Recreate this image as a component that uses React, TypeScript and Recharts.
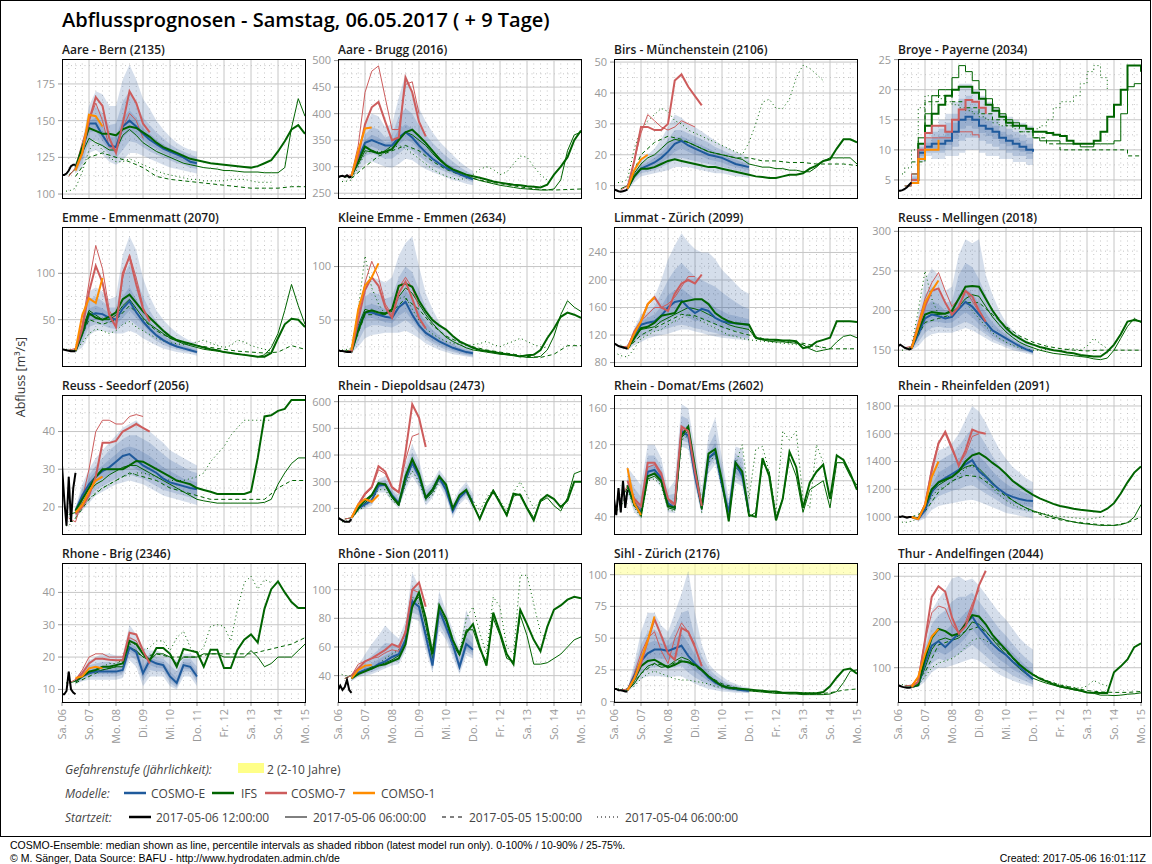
import { ComposedChart, Line, Area, XAxis, YAxis, CartesianGrid, ReferenceArea } from "recharts";

// ---------- station list & axes ----------
const STATIONS = [
  "Aare - Bern (2135)", "Aare - Brugg (2016)", "Birs - Münchenstein (2106)", "Broye - Payerne (2034)",
  "Emme - Emmenmatt (2070)", "Kleine Emme - Emmen (2634)", "Limmat - Zürich (2099)", "Reuss - Mellingen (2018)",
  "Reuss - Seedorf (2056)", "Rhein - Diepoldsau (2473)", "Rhein - Domat/Ems (2602)", "Rhein - Rheinfelden (2091)",
  "Rhone - Brig (2346)", "Rhône - Sion (2011)", "Sihl - Zürich (2176)", "Thur - Andelfingen (2044)",
];

const Y_DOMAINS: [number, number][] = [
  [97.3, 192], [241, 503], [6, 51], [2, 25.1],
  [0, 150], [7, 137], [75, 277], [130, 305.5],
  [12.8, 49.7], [104, 625], [21, 175], [878, 1879],
  [6.1, 49.1], [21.6, 118.6], [-0.3, 109.2], [25, 329],
];

const Y_TICKS = [
  [100, 125, 150, 175], [250, 300, 350, 400, 450, 500], [10, 20, 30, 40, 50], [5, 10, 15, 20, 25],
  [50, 100], [50, 100], [80, 120, 160, 200, 240], [150, 200, 250, 300],
  [20, 30, 40], [200, 300, 400, 500, 600], [40, 80, 120, 160], [1000, 1200, 1400, 1600, 1800],
  [10, 20, 30, 40], [40, 60, 80, 100], [0, 25, 50, 75, 100], [100, 200, 300],
];

// Gefahrenstufe 2 threshold (only Sihl reaches it on the axis)
const DANGER_LEVEL: (number | null)[] = [
  null, null, null, null, null, null, null, null, null, null, null, null, null, null, 100, null,
];

const DAY_LABELS = ["Sa. 06", "So. 07", "Mo. 08", "Di. 09", "Mi. 10", "Do. 11", "Fr. 12", "Sa. 13", "So. 14", "Mo. 15"];

// hours after Sa. 06 00:00 where each series begins
const OBS_START = 0, OBS_STEP = 2;
const ENS_START = 12;
const IFS_START = 12;
const IFS_06_START = 6;
const IFS_0505_START = 12, IFS_0505_STEP = 12;
const IFS_0504_START = 0;
const C7_START = 12;
const C7_06_START = 6;
const C1_START = 12;
const STEP = 6;

// ---------- observed ----------
const OBS = [
  [113, 113, 114, 116, 119, 120, 120],
  [280, 282, 283, 281, 284, 280, 281],
  [8.8, 8.5, 8.2, 8.0, 8.2, 8.4, 8.8],
  [3.2, 3.2, 3.3, 3.5, 3.8, 4.2, 4.6],
  [18, 17.5, 17, 16.5, 16, 16, 16],
  [22, 21, 21, 20.5, 20, 20, 20],
  [108, 106, 104, 103, 102, 101, 100],
  [155, 157, 155, 153, 152, 151, 152],
  [31, 22, 15, 28, 16, 25, 29],
  [165, 160, 155, 150, 150, 150, 160],
  [60, 42, 72, 45, 80, 50, 70],
  [1005, 1000, 1005, 1000, 995, 1000, 1000],
  [8.5, 8.5, 9.5, 15.5, 10, 9, 8.5],
  [30, 33, 30, 32, 37, 30, 28],
  [10, 10, 9, 9, 8.5, 8, 8],
  [62, 60, 58, 57, 56, 56, 57],
];

// ---------- COSMO-E median (12:00 run) ----------
const COSMO_E = [
  [118, 128, 148, 148, 140, 133, 132, 146, 150, 146, 141, 137, 134, 131, 129, 127, 125, 122, 121],
  [282, 315, 345, 350, 345, 340, 340, 355, 365, 355, 340, 327, 315, 306, 298, 292, 286, 281, 276],
  [9, 13, 15.5, 16.5, 17.5, 19, 21, 23.5, 24.5, 23, 22, 21, 20, 19.5, 19, 18, 17, 16.5, 16],
  [5, 9.5, 10.5, 11, 11, 11.5, 13, 15, 15.5, 15, 14, 13.5, 13, 12, 11.5, 11, 10.5, 10, 9.7],
  [16, 35, 55, 57, 56, 52, 50, 62, 70, 58, 48, 40, 33, 28, 24, 21, 19, 17, 15],
  [20, 42, 57, 57, 55, 53, 52, 62, 67, 55, 45, 38, 34, 30, 27, 24, 22, 20, 19],
  [100, 120, 135, 138, 140, 148, 160, 168, 170, 160, 152, 158, 155, 145, 140, 138, 137, 136, 135],
  [152, 170, 190, 195, 193, 190, 192, 202, 211, 205, 195, 185, 175, 170, 165, 160, 155, 151, 148],
  [19, 23, 26, 28, 29.5, 30.5, 32, 33.5, 34, 32.5, 31, 30, 29, 27.5, 26.5, 26, 25.5, 25, 24.7],
  [165, 200, 215, 230, 285, 290, 250, 220, 310, 370, 320, 240, 270, 315, 270, 190, 240, 265, 220],
  [75, 55, 45, 90, 92, 83, 55, 50, 135, 130, 85, 50, 105, 112, 75, 45, 100, 85, 45],
  [1000, 985, 1050, 1180, 1250, 1280, 1310, 1340, 1380, 1410, 1330, 1290, 1240, 1200, 1165, 1145, 1130, 1120, 1115],
  [12.5, 14, 15, 15.5, 15.5, 15.5, 15.5, 16, 23, 21.5, 15, 19, 18, 17.5, 14, 12, 17.5, 17, 14],
  [38, 42, 44, 45, 48, 50, 53, 55, 65, 92, 88, 68, 47, 86, 74, 62, 46, 62, 58],
  [9, 20, 32, 38, 41, 41, 40, 42, 44, 36, 30, 25, 19, 15, 12.5, 11, 10, 9, 8.5],
  [58, 62, 110, 148, 158, 145, 160, 175, 195, 212, 188, 170, 152, 138, 128, 113, 102, 88, 75],
];

// ---------- COSMO-E percentile ribbons ----------
const ENS_0_100_LO = [
  [114, 118, 128, 130, 127, 122, 120, 123, 128, 128, 126, 124, 122, 120, 118, 117, 116, 115, 114],
  [280, 290, 305, 310, 305, 300, 298, 305, 315, 312, 303, 295, 290, 285, 280, 275, 272, 268, 265],
  [8.5, 11, 13, 13.5, 14, 14.5, 15, 16, 16, 16, 15.5, 15, 14.5, 14, 14, 13.5, 13, 13, 12.5],
  [4.5, 8, 9, 8.5, 8.5, 9, 9, 9.5, 10, 10, 9.5, 9, 9, 8.5, 8.5, 8, 8, 7.5, 7.5],
  [15, 20, 33, 38, 38, 36, 35, 35, 38, 35, 30, 26, 22, 19, 17, 15, 14, 13, 11],
  [19, 25, 33, 36, 37, 38, 38, 38, 40, 37, 33, 28, 25, 22, 20, 18, 17, 16, 15],
  [98, 105, 110, 115, 118, 120, 122, 125, 128, 128, 125, 123, 120, 118, 116, 115, 114, 113, 112],
  [150, 155, 165, 170, 172, 172, 172, 175, 178, 175, 170, 165, 160, 157, 153, 150, 148, 146, 144],
  [17, 19, 21, 23, 24, 25, 26, 26.5, 27, 26.5, 26, 25, 24, 23, 22.5, 22, 21.5, 21, 20.5],
  [160, 190, 200, 210, 260, 260, 225, 200, 270, 320, 280, 210, 240, 290, 240, 165, 215, 240, 195],
  [65, 45, 38, 80, 82, 72, 45, 44, 118, 115, 74, 42, 88, 98, 68, 35, 78, 74, 38],
  [995, 970, 990, 1050, 1080, 1090, 1100, 1110, 1120, 1125, 1110, 1090, 1070, 1050, 1030, 1020, 1010, 1000, 990],
  [11.5, 12.5, 13, 13, 13, 13, 13, 13.5, 19, 17, 11, 14, 14, 14, 11, 10, 14, 14, 11],
  [36, 39, 40, 41, 43, 45, 47, 48, 57, 80, 78, 58, 42, 72, 65, 53, 41, 54, 52],
  [8, 12, 18, 20, 20, 20, 19, 20, 20, 17, 14, 12, 10, 9, 8, 7.5, 7, 7, 6.5],
  [56, 58, 70, 90, 100, 100, 105, 110, 115, 120, 115, 105, 95, 85, 78, 72, 66, 62, 58],
];
const ENS_0_100_HI = [
  [120, 135, 160, 170, 168, 160, 160, 178, 188, 178, 165, 158, 150, 144, 139, 135, 132, 130, 129],
  [284, 330, 380, 400, 395, 375, 380, 430, 475, 440, 410, 385, 365, 348, 335, 322, 310, 300, 292],
  [9.5, 15, 18, 20, 22, 25, 29, 33, 32, 30, 29, 27.5, 26, 24.5, 23, 22, 21, 20, 19],
  [6, 11, 13, 14, 15, 16, 18, 21, 21, 20, 19, 18, 17, 16, 15.5, 15, 14.5, 14, 13.5],
  [18, 50, 80, 85, 80, 72, 75, 120, 140, 125, 95, 75, 60, 50, 42, 36, 31, 27, 24],
  [22, 60, 85, 90, 88, 85, 90, 110, 122, 128, 100, 75, 60, 48, 40, 35, 31, 28, 26],
  [102, 130, 150, 160, 175, 200, 230, 250, 268, 255, 245, 240, 240, 230, 215, 205, 195, 185, 180],
  [155, 195, 240, 253, 245, 225, 230, 270, 290, 285, 290, 245, 220, 200, 185, 175, 168, 162, 157],
  [20, 26, 30, 33, 35, 37, 39, 41, 42, 43, 41, 40, 38.5, 37, 35, 34, 33, 32, 31],
  [170, 215, 235, 255, 310, 320, 280, 250, 370, 440, 380, 280, 300, 345, 310, 225, 270, 300, 255],
  [95, 85, 75, 120, 120, 105, 70, 80, 165, 160, 115, 70, 130, 150, 105, 60, 118, 115, 55],
  [1005, 1000, 1100, 1350, 1480, 1500, 1530, 1600, 1700, 1800, 1760, 1680, 1580, 1490, 1420, 1360, 1320, 1280, 1250],
  [13.5, 16, 19, 20, 21, 21, 20.5, 20.5, 30, 27, 23, 22, 22, 21, 20, 19, 21, 21, 20],
  [40, 47, 55, 62, 68, 75, 70, 66, 78, 112, 102, 80, 62, 99, 85, 72, 58, 86, 74],
  [10, 30, 55, 70, 70, 60, 55, 70, 85, 103, 70, 45, 30, 24, 20, 16, 14, 12, 11],
  [60, 72, 160, 225, 250, 270, 295, 300, 290, 295, 280, 260, 240, 220, 205, 185, 165, 150, 140],
];
const ENS_10_90_LO = [
  [115, 121, 135, 137, 132, 127, 124, 130, 136, 135, 132, 129, 127, 125, 123, 121, 120, 118, 117],
  [281, 300, 320, 325, 320, 315, 315, 325, 335, 330, 320, 310, 302, 295, 290, 284, 280, 276, 270],
  [8.7, 12, 14, 14.5, 15, 16, 17, 18.5, 19, 18.5, 18, 17.5, 17, 16.5, 16, 15.5, 15, 14.5, 14],
  [4.8, 8.5, 9.5, 9.5, 9.5, 10, 10.5, 11.5, 12, 12, 11.5, 11, 10.5, 10, 9.5, 9, 9, 8.5, 8],
  [15.5, 25, 42, 45, 44, 41, 40, 44, 50, 44, 38, 32, 27, 23, 20, 18, 16, 15, 13],
  [19.5, 30, 42, 45, 45, 44, 43, 46, 50, 45, 38, 32, 28, 25, 22, 20, 18.5, 17, 16],
  [99, 110, 118, 122, 125, 127, 130, 133, 135, 133, 130, 128, 125, 123, 120, 118, 117, 116, 115],
  [151, 160, 172, 178, 180, 178, 178, 182, 186, 182, 176, 170, 164, 160, 156, 153, 150, 148, 145],
  [17.5, 20.5, 22.5, 24.5, 25.5, 26.5, 27.5, 28, 28.5, 28, 27.5, 26.5, 25.5, 24.5, 24, 23.5, 23, 22.5, 22],
  [162, 195, 205, 218, 270, 272, 235, 208, 285, 340, 295, 222, 252, 300, 252, 175, 225, 250, 205],
  [70, 50, 41, 84, 86, 76, 50, 47, 125, 122, 79, 44, 94, 104, 72, 38, 84, 78, 40],
  [997, 975, 1010, 1100, 1150, 1170, 1190, 1200, 1220, 1230, 1200, 1170, 1140, 1110, 1080, 1060, 1050, 1040, 1030],
  [11.8, 13, 13.8, 14, 14, 14, 14, 14.5, 20.5, 19, 12.5, 16, 15.5, 15.5, 12, 10.5, 15.5, 15.5, 12],
  [36.5, 40, 41.5, 42.5, 44.5, 46.5, 49, 50, 59, 84, 82, 61, 44, 76, 68, 56, 43, 57, 54],
  [8.3, 14, 22, 26, 27, 27, 26, 27, 28, 23, 19, 16, 13, 11, 9.5, 8.5, 8, 7.5, 7],
  [57, 59, 80, 110, 120, 115, 122, 130, 140, 150, 138, 125, 112, 100, 92, 83, 76, 70, 63],
];
const ENS_10_90_HI = [
  [118, 130, 154, 160, 155, 147, 148, 163, 170, 162, 152, 147, 142, 138, 134, 131, 129, 127, 125],
  [283, 320, 360, 375, 370, 355, 360, 395, 410, 400, 378, 360, 345, 332, 320, 310, 300, 292, 285],
  [9.3, 14, 17, 18.5, 20, 22, 25, 28, 28, 27, 26, 25, 24, 22.5, 21.5, 20.5, 19.5, 18.5, 18],
  [5.6, 10.5, 12, 13, 13.5, 14.5, 16, 18.5, 19, 18, 17, 16, 15, 14, 13.5, 13, 12.5, 12, 11.5],
  [17, 45, 72, 75, 70, 63, 63, 95, 110, 95, 75, 60, 48, 40, 34, 29, 26, 23, 20],
  [21, 52, 72, 76, 74, 70, 72, 90, 100, 95, 78, 62, 51, 43, 36, 31, 28, 25, 23],
  [101, 128, 145, 152, 162, 180, 200, 215, 225, 215, 205, 200, 195, 190, 182, 175, 168, 162, 158],
  [154, 185, 220, 230, 225, 210, 212, 245, 260, 255, 240, 220, 200, 188, 177, 168, 162, 157, 153],
  [19.5, 25, 28.5, 31, 33, 35, 36.5, 38, 39, 39, 38, 37, 35.5, 34, 32.5, 31.5, 30.5, 29.5, 29],
  [168, 210, 228, 245, 300, 308, 268, 238, 345, 410, 355, 265, 288, 333, 293, 210, 258, 285, 240],
  [88, 72, 62, 108, 108, 96, 64, 66, 152, 148, 102, 60, 118, 133, 94, 54, 110, 104, 52],
  [1003, 995, 1080, 1290, 1400, 1430, 1460, 1510, 1580, 1640, 1600, 1520, 1440, 1370, 1310, 1270, 1240, 1210, 1190],
  [13.2, 15.3, 17.5, 18, 18.5, 18.5, 18, 18.5, 26.5, 25, 19, 21, 20, 19.5, 17.5, 15.5, 19.5, 19.5, 17],
  [39.5, 45, 50, 54, 58, 63, 62, 61, 72, 103, 97, 75, 55, 93, 80, 67, 52, 73, 67],
  [9.5, 26, 45, 55, 57, 52, 48, 58, 70, 72, 50, 36, 26, 21, 17, 14, 12.5, 11, 10],
  [59, 68, 140, 195, 215, 225, 245, 255, 255, 265, 245, 225, 205, 185, 170, 152, 135, 120, 108],
];
const ENS_25_75_LO = [
  [116, 124, 142, 143, 136, 130, 128, 138, 143, 140, 137, 133, 131, 128, 126, 124, 122, 120, 119],
  [281, 308, 332, 338, 333, 328, 330, 342, 352, 345, 332, 320, 310, 302, 295, 288, 283, 278, 273],
  [8.9, 12.5, 14.8, 15.5, 16, 17.5, 19, 21, 22, 21, 20, 19.5, 18.5, 18, 17.5, 16.5, 16, 15.5, 15],
  [4.9, 9, 10, 10.2, 10.2, 10.8, 11.8, 13.5, 14, 13.5, 12.8, 12.3, 11.8, 11, 10.6, 10, 9.7, 9.3, 9],
  [15.8, 30, 48, 50, 49, 46, 45, 52, 60, 52, 44, 37, 31, 26, 22.5, 20, 18, 16, 14],
  [20, 37, 51, 52, 50, 48, 47, 54, 58, 50, 42, 35, 30, 27, 24, 21.5, 19.5, 18, 17],
  [99.5, 115, 128, 132, 135, 138, 142, 148, 150, 145, 140, 142, 140, 135, 130, 128, 126, 124, 122],
  [151.5, 165, 182, 186, 186, 184, 185, 192, 198, 192, 183, 175, 168, 163, 159, 155, 152, 149, 146],
  [18.5, 22, 24.5, 26.5, 27.5, 28.5, 29.5, 30.5, 31, 30, 29, 28, 27, 26, 25, 24.5, 24, 23.5, 23],
  [164, 198, 210, 224, 278, 282, 242, 213, 298, 355, 308, 230, 262, 308, 262, 183, 233, 258, 212],
  [73, 53, 43, 87, 89, 79, 52, 49, 130, 126, 82, 46, 98, 108, 74, 41, 88, 82, 42],
  [998, 980, 1030, 1140, 1200, 1230, 1250, 1270, 1300, 1310, 1260, 1220, 1180, 1150, 1120, 1100, 1090, 1080, 1070],
  [12.2, 13.5, 14.4, 14.8, 14.8, 14.8, 14.8, 15.2, 21.8, 20.5, 13.5, 17.5, 16.8, 16.5, 13, 11.2, 16.5, 16.2, 13],
  [37.5, 41, 42.8, 44, 46.5, 48.5, 51, 53, 62, 88, 85, 65, 45.5, 81, 71, 59, 44.5, 59, 56],
  [8.7, 17, 27, 32, 34, 34, 33, 35, 36, 29, 24, 20, 16, 13, 11, 9.5, 9, 8.3, 7.8],
  [57.5, 60, 95, 128, 135, 128, 138, 150, 165, 185, 165, 148, 132, 118, 108, 96, 88, 78, 68],
];
const ENS_25_75_HI = [
  [117, 127, 150, 152, 146, 139, 139, 152, 157, 152, 145, 141, 137, 134, 131, 129, 127, 124, 123],
  [282, 315, 350, 360, 355, 345, 348, 370, 380, 372, 355, 342, 330, 318, 308, 300, 292, 286, 280],
  [9.1, 13.5, 16.5, 17.5, 19, 20.5, 23, 25.5, 26, 25, 24, 23, 22, 21, 20, 19, 18.5, 17.5, 17],
  [5.3, 10, 11.2, 12, 12.3, 13, 14.5, 16.5, 17, 16.5, 15.5, 14.8, 14, 13, 12.5, 12, 11.5, 11, 10.5],
  [16.5, 40, 62, 65, 62, 57, 56, 75, 85, 72, 58, 48, 40, 33, 28, 24, 22, 19.5, 17],
  [20.5, 47, 63, 65, 63, 60, 60, 72, 78, 70, 58, 48, 41, 35, 30, 27, 24, 22, 20.5],
  [100.5, 125, 140, 145, 150, 162, 178, 185, 188, 180, 172, 172, 168, 160, 155, 150, 148, 145, 143],
  [153, 177, 205, 212, 208, 200, 200, 220, 228, 222, 210, 197, 185, 176, 169, 163, 158, 155, 150],
  [19.2, 24, 27.5, 29.5, 31, 32.5, 34, 35.5, 36, 35.5, 34.5, 33.5, 32, 30.5, 29.5, 28.5, 27.5, 27, 26.5],
  [166, 205, 222, 238, 293, 298, 258, 228, 325, 388, 335, 252, 278, 323, 280, 198, 248, 274, 230],
  [82, 62, 52, 96, 98, 89, 59, 57, 142, 138, 93, 54, 110, 122, 87, 49, 104, 95, 49],
  [1002, 990, 1065, 1230, 1320, 1350, 1380, 1420, 1470, 1500, 1440, 1390, 1330, 1280, 1240, 1210, 1190, 1170, 1155],
  [12.8, 14.6, 16, 16.7, 17, 17, 16.8, 17.2, 24.5, 23, 17, 20, 19, 18.5, 15.5, 13.5, 18.5, 18.2, 15.5],
  [38.8, 43.5, 46.5, 48.5, 51.5, 54, 56.5, 57.5, 68, 96, 92, 71, 50, 89, 77, 64, 49, 67, 62],
  [9.2, 23, 38, 46, 48, 46, 44, 49, 54, 46, 37, 30, 23, 18, 15, 13, 11.5, 10.2, 9.5],
  [58.5, 65, 125, 172, 185, 180, 195, 205, 220, 235, 215, 195, 175, 160, 148, 132, 118, 103, 90],
];

// ---------- IFS (12:00 run, thick) ----------
const IFS = [
  [118, 132, 145, 143, 141, 141, 140, 144, 146, 145, 142, 139, 135, 132, 130, 128, 126, 124, 123, 122, 121, 120.5, 120, 119.5, 119, 118.5, 118, 119, 121, 123, 129, 136, 144, 147, 141],
  [282, 310, 338, 330, 325, 328, 333, 350, 365, 370, 358, 345, 330, 315, 303, 295, 290, 285, 282, 279, 276, 272, 270, 268, 266, 265, 263, 262, 261, 266, 285, 300, 318, 350, 368],
  [9, 13, 15.5, 15.5, 16, 17, 18, 18.5, 18, 17.5, 17, 16.5, 16, 16, 15.5, 15, 14.5, 14, 13.5, 13, 12.8, 12.5, 12.5, 13, 13.5, 13.5, 14, 15.5, 16.5, 18, 18.5, 22, 25, 25, 24],
  [5, 11, 14, 16, 17.5, 19, 20, 20.5, 20.5, 19.5, 18.5, 17.5, 16.5, 15.5, 14.5, 14, 14, 13.5, 13, 13, 12.8, 12.5, 12.3, 11.5, 11, 11, 11, 11.5, 13, 15.5, 17.5, 20, 24, 24, 23],
  [16, 35, 57, 52, 50, 53, 58, 72, 77, 68, 59, 52, 45, 38, 32, 28, 26, 24, 22, 20, 18, 17, 15, 14, 13, 12, 11, 10, 10, 14, 30, 45, 51, 50, 42],
  [20, 40, 57, 59, 57, 56, 60, 82, 84, 81, 68, 58, 50, 45, 41, 35, 30, 27, 24, 22, 21, 20, 19, 18, 17, 16, 17, 17.5, 22, 33, 42, 53, 57, 55, 52],
  [100, 115, 130, 132, 138, 148, 150, 152, 168, 170, 172, 172, 165, 152, 145, 140, 137, 136, 135, 116, 114, 113, 113, 112, 112, 111, 101, 103, 110, 113, 116, 140, 140, 140, 139],
  [152, 175, 195, 198, 197, 196, 200, 215, 230, 231, 230, 215, 200, 188, 178, 170, 165, 160, 157, 154, 152, 150, 149, 147, 146, 144, 143, 142, 142, 148, 157, 170, 186, 188, 186],
  [19, 22, 25, 28, 30, 30, 30, 30, 31, 32.2, 32, 31, 30, 29, 28, 27, 26.5, 26, 25, 24.5, 24, 23.4, 23.4, 23.4, 23.4, 23.4, 24, 33, 44, 44.3, 45.5, 46, 48.4, 48.4, 48.4],
  [165, 200, 230, 250, 295, 290, 245, 215, 320, 385, 330, 240, 270, 320, 290, 200, 250, 270, 215, 160, 220, 265, 220, 175, 255, 250, 200, 155, 230, 250, 235, 205, 230, 300, 300],
  [75, 55, 42, 85, 88, 80, 52, 50, 130, 140, 95, 50, 110, 115, 80, 35, 100, 90, 42, 40, 105, 85, 36, 60, 112, 95, 50, 78, 90, 98, 60, 108, 103, 88, 70],
  [1000, 990, 1080, 1200, 1250, 1270, 1290, 1330, 1400, 1445, 1460, 1430, 1390, 1355, 1310, 1260, 1225, 1190, 1160, 1135, 1115, 1095, 1080, 1070, 1060, 1052, 1048, 1042, 1036, 1060, 1100, 1170, 1250, 1320, 1365],
  [12.5, 14, 15.5, 16, 17, 17, 17.5, 18, 25, 24, 21, 19, 22.8, 22.8, 21, 17, 22.5, 22, 21.5, 17, 22.3, 22.3, 16.6, 16.6, 22.3, 25.4, 27, 24.5, 35, 41, 43.4, 40, 37, 35.2, 35.2],
  [38, 41, 43, 45, 47, 48, 50, 52, 62, 88, 98, 80, 55, 89, 80, 65, 55, 70, 76, 60, 47, 84, 70, 55, 48, 86, 76, 65, 57, 74, 86, 89, 93, 95, 94],
  [9, 17, 28, 32, 33, 30, 27, 29, 31.8, 31, 29, 25, 20, 16, 12.5, 11, 10.5, 10, 9.5, 9, 8.5, 8, 8, 7, 7, 7, 6.6, 6.6, 6.6, 7.5, 12, 19, 25, 26, 22],
  [58, 62, 120, 165, 185, 180, 170, 175, 195, 215, 212, 195, 172, 155, 139, 122, 107, 95, 85, 76, 70, 64, 59, 56, 53, 50, 46, 45, 44.5, 44.5, 90, 103, 118, 145, 153],
];

// ---------- IFS (06:00 run, thin) ----------
const IFS_06 = [
  [113, 117, 128, 138, 135, 133, 130, 130, 140, 144, 140, 135, 132, 129, 127, 125, 123, 121, 120, 119, 118, 117.5, 117, 116, 116, 115.5, 115, 115, 115, 114.5, 114.5, 114.5, 118, 145, 165, 153],
  [280, 283, 305, 330, 328, 325, 330, 340, 355, 365, 360, 350, 340, 325, 312, 302, 293, 287, 282, 278, 274, 271, 268, 265, 263, 261, 259, 258, 257, 256, 256, 258, 275, 330, 360, 365],
  [9, 10, 14, 17, 19, 20, 22, 24, 25, 24.5, 24, 23, 22, 21, 20.5, 20, 19.5, 19, 18.5, 17, 16.5, 16, 16, 15.5, 15.5, 15, 15, 14.5, 14.5, 16, 18, 19, 19, 19, 19, 17],
  [4, 6, 12, 16, 19, 20, 20, 22, 24, 23, 21.5, 20, 18.5, 17, 16, 15, 14.5, 14, 13.5, 12, 11.5, 11.5, 11.5, 11, 11, 11, 10.5, 10.5, 11, 11, 11, 11.5, 16, 20.5, 21, 21],
  [17, 17, 40, 60, 55, 50, 50, 55, 65, 72, 62, 52, 45, 40, 35, 30, 27, 24, 22, 20, 18, 17, 16, 15, 14, 13, 12, 11, 10, 12, 20, 35, 60, 88, 65, 45],
  [21, 22, 45, 60, 58, 55, 55, 60, 72, 80, 75, 65, 55, 47, 40, 34, 30, 27, 24, 22, 21, 20, 19, 18, 17.5, 17, 16, 15, 15, 16, 22, 35, 55, 68, 62, 58],
  [104, 102, 118, 128, 130, 132, 140, 145, 150, 155, 160, 158, 155, 150, 145, 140, 135, 132, 130, 128, 115, 113, 111, 110, 110, 109, 108, 106, 100, 96, 98, 100, 110, 118, 120, 116],
  [152, 153, 172, 190, 195, 195, 196, 198, 205, 215, 220, 218, 205, 192, 182, 173, 166, 160, 156, 153, 150, 148, 146, 145, 144, 143, 142, 141, 139, 138, 140, 150, 165, 180, 190, 185],
  [18, 18.5, 21, 24, 26, 27, 28.5, 29.5, 30.5, 31, 31, 30, 29, 28, 27, 26, 25, 24, 23, 22, 21.6, 21.3, 21, 21, 21, 21, 21, 21, 21, 21.2, 22, 26, 29, 31.5, 33, 33],
  [160, 165, 195, 220, 245, 290, 285, 240, 210, 300, 370, 325, 235, 260, 310, 285, 195, 240, 265, 210, 165, 225, 270, 225, 170, 245, 255, 205, 165, 225, 240, 210, 190, 240, 330, 340],
  [60, 72, 52, 44, 82, 85, 78, 50, 48, 128, 135, 90, 48, 105, 110, 75, 38, 95, 88, 40, 45, 100, 90, 40, 60, 105, 85, 45, 70, 75, 80, 50, 100, 100, 85, 75],
  [1000, 1000, 985, 1060, 1180, 1230, 1260, 1290, 1330, 1360, 1375, 1350, 1300, 1250, 1200, 1160, 1120, 1090, 1065, 1045, 1030, 1015, 1000, 990, 975, 965, 955, 950, 945, 940, 940, 940, 945, 960, 1000, 1090],
  [12, 12.5, 14, 15, 15.5, 16, 16.5, 17, 17, 23, 22, 20, 19, 21, 21, 20, 18, 20, 20, 20, 21, 21, 21, 20, 20, 20, 20, 22, 20, 17, 18, 20, 20, 20, 22, 24],
  [38, 40, 42, 44, 46, 47, 49, 51, 54, 65, 90, 95, 75, 52, 86, 78, 62, 54, 72, 72, 58, 50, 80, 68, 52, 50, 82, 68, 48, 48, 49, 52, 55, 60, 65, 67],
  [9, 9, 14, 22, 28, 30, 27, 28, 32, 35, 33, 29, 24, 19, 15, 12, 10.5, 9.5, 9, 8.5, 8, 7.5, 7, 6.5, 6.5, 6, 6, 5.5, 5.5, 5.5, 5.5, 6, 8, 15, 24, 25],
  [60, 60, 62, 100, 140, 160, 165, 160, 165, 180, 200, 195, 180, 162, 145, 128, 112, 98, 86, 77, 71, 66, 62, 58, 55, 52, 49, 46, 44, 40, 40, 39, 40, 42, 43, 45],
];

// ---------- IFS (2017-05-05 15:00 run, dashed; read every 12 h, left out where hidden) ----------
const IFS_0505 = [
  [112, 125, 128, 125, 122, 118, 112, 110, 109, 108, 107, 106, 105, 104, 104, 104, 105, 105],
  [278, 300, 320, 330, 340, 330, 310, 295, 285, 278, 272, 268, 264, 260, 257, 256, 257, 258],
  [10, 20, 24, 26, 25, 23, 21, 20, 19, 19, 18, 18, 17.5, 17.5, 17, 17, 17, 16.5],
  [8, 18, 19, 18, 17, 16, 15, 14, 13, 12, 11, 10, 10, 10, 10, 10, 9, 9],
  [17, 50, 45, 50, 65, 50, 38, 30, 25, 22, 20, 18, 16, 15, 14, 15, 22, 18],
  [21, 55, 55, 58, 70, 60, 45, 35, 29, 25, 22, 20, 18, 16, 15, 18, 26, 26],
  [100, 120, 130, 140, 150, 148, 140, 132, 125, 120, 115, 112, 110, 108, 104, 100, 100, 100],
  [152, 185, 190, 195, 210, 210, 195, 180, 168, 160, 155, 152, 150, 149, 150, 150, 150, 150],
  [17, 22, 25, 27, 29, 28, 27, 25, 24, 23, 22, 22, 22, 22, 22, 25, 27, 27],
  [],
  [],
  [1000, 1040, 1180, 1260, 1300, 1290, 1220, 1150, 1090, 1040, 1000, 980, 965, 955, 945, 940, 960, 1000],
  [12, 14, 16, 17, 23, 20, 21, 20, 20, 20, 21, 21, 21, 21, 22, 23, 24, 26],
  [],
  [9, 22, 30, 28, 33, 28, 20, 14, 11, 9, 8, 7, 7, 6, 6, 7, 9, 10],
  [60, 90, 150, 160, 180, 190, 165, 135, 105, 85, 72, 62, 56, 50, 47, 46, 46, 48],
];

// ---------- IFS (2017-05-04 06:00 run, dotted) ----------
const IFS_0504 = [
  [102, 102, 104, 115, 130, 135, 130, 125, 122, 122, 124, 122, 120, 118, 116, 114, 113, 112, 111, 110, 110, 109, 109, 109, 109, 110, 110, 110, 109, 108, 108, 108],
  [272, 272, 275, 300, 325, 330, 328, 330, 335, 340, 335, 325, 315, 305, 295, 288, 282, 278, 276, 278, 285, 295, 300, 295, 285, 290, 305, 320, 318, 300, 285, 275],
  [11, 11, 12, 22, 28, 31, 33, 35, 34, 31, 30, 28, 27, 26, 25, 24, 23, 22, 21, 20, 24, 30, 37, 38, 35, 35, 38, 45, 49, 48, 46, 44],
  [6, 7, 10, 17, 19, 19, 18.5, 18, 17.5, 17, 16.5, 16, 15.5, 15, 14.5, 14, 14, 13.5, 13, 13, 13.5, 14, 15, 17, 18, 18, 19, 21, 23, 24, 22, 20],
  [18, 18, 18, 25, 35, 40, 38, 35, 38, 45, 48, 42, 38, 34, 30, 27, 25, 24, 23, 24, 26, 28, 25, 22, 20, 22, 28, 26, 22, 20, 18, 16],
  [22, 22, 24, 60, 110, 80, 65, 55, 60, 70, 72, 60, 50, 42, 37, 33, 30, 28, 27, 26, 27, 28, 30, 27, 25, 28, 30, 33, 30, 27, 25, 24],
  [95, 90, 88, 100, 115, 120, 125, 128, 135, 140, 145, 150, 145, 140, 135, 130, 125, 120, 118, 115, 113, 112, 111, 110, 109, 108, 107, 106, 105, 104, 103, 102],
  [150, 150, 155, 200, 250, 215, 195, 190, 195, 205, 210, 200, 190, 180, 172, 165, 160, 156, 153, 151, 150, 150, 151, 150, 149, 151, 152, 150, 155, 165, 158, 152],
  [15, 15, 17, 20, 22, 24, 25, 26, 27, 28, 28.5, 29, 29, 28.5, 28, 27.5, 27, 27, 27, 27.5, 28, 29, 32, 34, 36, 39, 41, 43, 43, 43, 43, 43],
  [150, 150, 160, 190, 210, 230, 270, 270, 230, 210, 290, 340, 300, 230, 250, 300, 280, 200, 240, 270, 230, 190, 240, 270, 230, 190, 260, 300, 250, 200, 230, 250],
  [45, 50, 70, 50, 40, 80, 82, 75, 48, 46, 125, 130, 88, 45, 100, 108, 72, 38, 98, 120, 60, 115, 118, 90, 45, 135, 125, 135, 60, 50, 120, 100],
  [970, 960, 970, 990, 1050, 1150, 1200, 1220, 1250, 1300, 1350, 1370, 1330, 1270, 1210, 1160, 1120, 1090, 1065, 1050, 1040, 1030, 1020, 1010, 1005, 1000, 995, 990, 985, 990, 1000, 1010],
  [12, 12, 13, 14, 15, 16, 17, 18, 18, 19, 24, 24, 22, 23, 25, 25, 22, 26, 28, 23, 21, 23, 29.5, 30, 29.5, 25, 35, 43, 45, 41, 44, 43],
  [42, 40, 40, 42, 44, 46, 48, 52, 55, 58, 70, 95, 90, 70, 55, 85, 75, 60, 55, 80, 88, 70, 55, 95, 88, 60, 55, 110, 110, 90, 70, 65],
  [10, 10, 10, 12, 18, 22, 24, 22, 20, 18, 17, 17, 16, 15, 14, 12, 11, 10, 9.5, 9, 8.5, 8, 8, 7.5, 7.5, 7, 7, 7, 7, 7, 7, 7],
  [65, 62, 60, 62, 80, 100, 110, 115, 120, 130, 145, 160, 165, 160, 150, 140, 128, 115, 102, 92, 84, 77, 72, 67, 63, 60, 57, 55, 60, 72, 65, 60],
];

// ---------- COSMO-7 (12:00 thick / 06:00 thin) ----------
const COSMO7 = [
  [117, 128, 150, 166, 160, 138, 128, 148, 170, 162, 148, 142],
  [283, 320, 380, 412, 422, 385, 350, 355, 468, 440, 385, 357],
  [9, 18, 29, 29, 28, 28, 30, 44, 46, 42, 39, 36],
  [5, 10, 12.8, 14, 14, 13, 15, 16.7, 18.3, 18, 17, 16],
  [17, 40, 80, 108, 90, 55, 42, 100, 118, 88, 62, 48],
  [20, 50, 78, 90, 82, 62, 52, 75, 86, 70, 52, 42],
  [100, 125, 140, 165, 175, 160, 155, 180, 195, 200, 195, 208],
  [152, 178, 205, 225, 228, 210, 195, 205, 225, 218, 200, 186],
  [18, 20, 23, 28, 37, 37, 37.5, 40, 41, 42, 41, 40],
  [165, 215, 255, 280, 358, 338, 280, 260, 410, 590, 540, 430],
  [80, 60, 52, 100, 100, 88, 60, 54, 140, 135, 90, 52],
  [1000, 985, 1085, 1330, 1530, 1615, 1500, 1370, 1480, 1630, 1610, 1600],
  [13, 15, 18, 19.5, 19.5, 19.2, 19, 19, 27.5, 27, 22, 18],
  [40, 45, 50, 52, 55, 58, 62, 60, 70, 100, 105, 88],
  [9, 18, 30, 48, 65, 52, 38, 33, 58, 55, 43, 28],
  [58, 70, 160, 255, 278, 266, 210, 175, 190, 230, 280, 312],
];
const COSMO7_06 = [
  [112, 118, 135, 150, 162, 150, 132, 130, 145, 155, 150, 138],
  [282, 285, 340, 440, 480, 490, 430, 370, 370, 455, 460, 400],
  [8.5, 10, 18, 27, 33, 31, 29, 28, 29, 31, 30, 29],
  [4, 6, 10, 12, 12, 12, 12, 13, 13, 13, 12.5, 12],
  [17, 19, 45, 90, 130, 105, 60, 48, 95, 120, 95, 65],
  [20, 22, 55, 85, 105, 90, 65, 55, 80, 90, 80, 62],
  [102, 104, 125, 140, 150, 160, 160, 165, 175, 190, 205, 205],
  [153, 155, 185, 215, 235, 248, 225, 205, 215, 225, 212, 198],
  [17, 16, 22, 30, 40, 43, 43, 42, 42, 44, 44.5, 44],
  [160, 165, 210, 250, 275, 345, 330, 275, 260, 380, 470, 480],
  [60, 75, 58, 48, 95, 98, 85, 58, 52, 138, 130, 85],
  [1000, 1000, 990, 1100, 1360, 1540, 1600, 1480, 1380, 1450, 1580, 1600],
  [12, 13, 16, 20, 21, 21, 20, 20, 20, 26, 25, 21],
  [38, 40, 48, 50, 52, 53, 56, 58, 57, 72, 100, 98],
  [9, 10, 22, 38, 50, 55, 40, 30, 50, 62, 55, 45],
  [60, 62, 80, 160, 220, 235, 230, 195, 175, 200, 240, 270],
];

// ---------- COSMO-1 (12:00 run) ----------
const COSMO1 = [
  [116, 128, 154, 153, 146],
  [282, 330, 372, 374],
  [9, 15, 18.5, 20],
  [4.5, 8.5, 10, 10, 11.7],
  [17, 55, 73, 68, 95],
  [22, 60, 82, 90, 103],
  [100, 122, 140, 165, 175],
  [152, 180, 210, 225, 238],
  [18.5, 20.5, 24, 27, 28],
  [165, 215, 235, 225, 250],
  [94, 55, 42],
  [1000, 985, 1085, 1290, 1400],
  [13.5, 14, 16.5, 17, 16.5],
  [38, 44, 47, 47.5],
  [9, 18, 33, 48, 67],
  [58, 80, 130, 168, 185],
];

// ---------- layout & style ----------
const COL_X = [62, 338, 614, 898];
const ROW_Y = [59, 227, 395, 563];
const PLOT_W = 243;
const PLOT_H = 139;
const AXIS_W = 44;
const PAD_T = 10;
const PAD_R = 12;
const T_MAX = 216;

const FONT = "'Open Sans', 'DejaVu Sans', sans-serif";
const FOOT_FONT = "'Liberation Sans', Arial, sans-serif";
const BLUE = "#1f5a9c";
const GREEN = "#006400";
const RED = "#cd5c5c";
const ORANGE = "#ff8c00";
const RIBBON = "#2b5c9a";
const GRID = "#c6c6c6";
const TICK_GREY = "#999999";

const DAY_TICKS = DAY_LABELS.map((_, k) => k * 24);
const MINOR_X: number[] = [];
for (let t = 6; t < T_MAX; t += 6) if (t % 24 !== 0) MINOR_X.push(t);

function buildRows(i: number) {
  const rows: Record<string, any>[] = [];
  for (let t = 0; t <= T_MAX; t += 2) rows.push({ t });
  const put = (key: string, start: number, step: number, vals: number[]) =>
    vals.forEach((v, j) => {
      const r = rows[(start + j * step) / 2];
      if (r) r[key] = v;
    });
  const band = (key: string, lo: number[], hi: number[]) =>
    lo.forEach((v, j) => {
      const r = rows[(ENS_START + j * STEP) / 2];
      if (r) r[key] = [v, hi[j]];
    });
  put("obs", OBS_START, OBS_STEP, OBS[i]);
  put("cosmoE", ENS_START, STEP, COSMO_E[i]);
  band("b100", ENS_0_100_LO[i], ENS_0_100_HI[i]);
  band("b90", ENS_10_90_LO[i], ENS_10_90_HI[i]);
  band("b75", ENS_25_75_LO[i], ENS_25_75_HI[i]);
  put("ifs", IFS_START, STEP, IFS[i]);
  put("ifs06", IFS_06_START, STEP, IFS_06[i]);
  put("ifs0505", IFS_0505_START, IFS_0505_STEP, IFS_0505[i]);
  put("ifs0504", IFS_0504_START, STEP, IFS_0504[i]);
  put("c7", C7_START, STEP, COSMO7[i]);
  put("c706", C7_06_START, STEP, COSMO7_06[i]);
  put("c1", C1_START, STEP, COSMO1[i]);
  return rows;
}

function DayTick(props: any) {
  const { x, y, payload } = props;
  const label = DAY_LABELS[Math.round(payload.value / 24)];
  return (
    <text x={x} y={y} transform={`rotate(-90 ${x} ${y})`} textAnchor="end" dy="0.35em"
      fontSize={11} fontFamily={FONT} fill={TICK_GREY}>
      {label}
    </text>
  );
}

function Panel({ idx }: { idx: number }) {
  const col = idx % 4;
  const row = Math.floor(idx / 4);
  const bottom = row === 3;
  const data = buildRows(idx);
  const [y0, y1] = Y_DOMAINS[idx];
  const ticks = Y_TICKS[idx];
  const step = ticks.length > 1 ? ticks[1] - ticks[0] : 10;
  const minorY = [ticks[0] - step / 2, ...ticks.map((v) => v + step / 2)].filter((v) => v > y0 && v < y1);
  const curve = idx === 3 ? "stepAfter" : "linear";
  const danger = DANGER_LEVEL[idx];
  const height = PAD_T + PLOT_H + (bottom ? 54 : 4);

  const line = (key: string, color: string, width: number, dash?: string) => (
    <Line key={key} type={curve} dataKey={key} stroke={color} strokeWidth={width} strokeDasharray={dash}
      dot={false} activeDot={false} connectNulls isAnimationActive={false} />
  );
  const ribbon = (key: string) => (
    <Area key={key} type={curve} dataKey={key} stroke="none" fill={RIBBON} fillOpacity={0.2}
      dot={false} activeDot={false} connectNulls isAnimationActive={false} />
  );

  return (
    <>
      <div style={{ position: "absolute", left: COL_X[col] - AXIS_W, top: ROW_Y[row] - PAD_T }}>
        <ComposedChart width={AXIS_W + PLOT_W + PAD_R} height={height} data={data}
          margin={{ top: PAD_T, right: PAD_R, bottom: bottom ? 0 : 4, left: 0 }}>
          <CartesianGrid verticalValues={MINOR_X} horizontalValues={minorY} stroke="#c4c4c4" strokeDasharray="1 3.5" />
          <CartesianGrid verticalValues={DAY_TICKS.slice(1, -1)} horizontalValues={ticks} stroke={GRID} />
          <XAxis dataKey="t" type="number" domain={[0, T_MAX]} ticks={DAY_TICKS} interval={0} allowDataOverflow
            hide={!bottom} height={bottom ? 54 : 0} axisLine={false} tickLine={{ stroke: TICK_GREY }}
            tickSize={4} tickMargin={3} tick={<DayTick />} />
          <YAxis type="number" domain={[y0, y1]} ticks={ticks} interval={0} allowDataOverflow width={AXIS_W}
            axisLine={false} tickLine={{ stroke: TICK_GREY }} tickSize={4} tickMargin={3}
            tick={{ fontSize: 11, fill: TICK_GREY, fontFamily: FONT }} />
          {danger != null && (
            <ReferenceArea y1={danger} y2={y1} fill="#ffff99" fillOpacity={0.6} stroke="none" ifOverflow="hidden" />
          )}
          {ribbon("b100")}
          {ribbon("b90")}
          {ribbon("b75")}
          {line("ifs0504", GREEN, 1, "1 3")}
          {line("ifs0505", GREEN, 1, "4 3")}
          {line("ifs06", GREEN, 1)}
          {line("c706", RED, 1)}
          {line("cosmoE", BLUE, 2)}
          {line("ifs", GREEN, 2)}
          {line("c7", RED, 2)}
          {line("c1", ORANGE, 2)}
          <Line type="linear" dataKey="obs" stroke="#000" strokeWidth={2} dot={false} activeDot={false}
            connectNulls isAnimationActive={false} />
        </ComposedChart>
      </div>
      <div style={{
        position: "absolute", left: COL_X[col], top: ROW_Y[row], width: PLOT_W + 1, height: PLOT_H + 1,
        border: "1px solid #000", boxSizing: "border-box", pointerEvents: "none",
      }} />
    </>
  );
}

function LegendLine({ x, y, color, width, dash }: { x: number; y: number; color: string; width: number; dash?: string }) {
  return <line x1={x} x2={x + 22} y1={y} y2={y} stroke={color} strokeWidth={width} strokeDasharray={dash} />;
}

export default function App() {
  const legendText = { fontSize: 12, fill: "#444", fontFamily: FONT };
  return (
    <div style={{ position: "absolute", left: 0, top: 0, width: 1152, height: 864, background: "#fff" }}>
      <svg width={1152} height={864} style={{ position: "absolute", left: 0, top: 0 }}>
        <rect x={0.5} y={0.5} width={1150} height={836} fill="#fff" stroke="#000" />
        <text x={62} y={27} fontSize={20} fontWeight={600} fontFamily={FONT} fill="#000">
          Abflussprognosen - Samstag, 06.05.2017 ( + 9 Tage)
        </text>
        {STATIONS.map((s, i) => (
          <text key={s} x={COL_X[i % 4]} y={ROW_Y[Math.floor(i / 4)] - 5} fontSize={12} fontWeight={600}
            fontFamily={FONT} fill="#1a1a1a">
            {s}
          </text>
        ))}
        <text x={25} y={377} transform="rotate(-90 25 377)" textAnchor="middle" fontSize={12.5}
          fontFamily={FONT} fill="#333">
          Abfluss [m³/s]
        </text>

        {/* legend */}
        <text x={65} y={774} fontStyle="italic" {...legendText}>Gefahrenstufe (Jährlichkeit):</text>
        <rect x={238} y={763} width={26} height={10} fill="#ffff88" />
        <text x={267} y={774} {...legendText}>2 (2-10 Jahre)</text>

        <text x={65} y={798} fontStyle="italic" {...legendText}>Modelle:</text>
        <LegendLine x={124} y={793} color={BLUE} width={2.5} />
        <text x={151} y={798} {...legendText}>COSMO-E</text>
        <LegendLine x={212} y={793} color={GREEN} width={2.5} />
        <text x={241} y={798} {...legendText}>IFS</text>
        <LegendLine x={265} y={793} color={RED} width={2.5} />
        <text x={291} y={798} {...legendText}>COSMO-7</text>
        <LegendLine x={353} y={793} color={ORANGE} width={2.5} />
        <text x={381} y={798} {...legendText}>COMSO-1</text>

        <text x={65} y={822} fontStyle="italic" {...legendText}>Startzeit:</text>
        <LegendLine x={129} y={817} color="#000" width={2.5} />
        <text x={156} y={822} {...legendText}>2017-05-06 12:00:00</text>
        <LegendLine x={285} y={817} color="#000" width={1} />
        <text x={313} y={822} {...legendText}>2017-05-06 06:00:00</text>
        <LegendLine x={442} y={817} color="#000" width={1} dash="4 4" />
        <text x={469} y={822} {...legendText}>2017-05-05 15:00:00</text>
        <LegendLine x={597} y={817} color="#000" width={1} dash="1 3" />
        <text x={625} y={822} {...legendText}>2017-05-04 06:00:00</text>

        {/* footer */}
        <text x={10} y={849} fontSize={10.5} fontFamily={FOOT_FONT} fill="#000">
          COSMO-Ensemble: median shown as line, percentile intervals as shaded ribbon (latest model run only). 0-100% / 10-90% / 25-75%.
        </text>
        <text x={10} y={862} fontSize={10.5} fontFamily={FOOT_FONT} fill="#000">
          © M. Sänger, Data Source: BAFU - http://www.hydrodaten.admin.ch/de
        </text>
        <text x={1146} y={862} textAnchor="end" fontSize={10.5} fontFamily={FOOT_FONT} fill="#000">
          Created: 2017-05-06 16:01:11Z
        </text>
      </svg>
      {STATIONS.map((s, i) => <Panel key={s} idx={i} />)}
    </div>
  );
}
